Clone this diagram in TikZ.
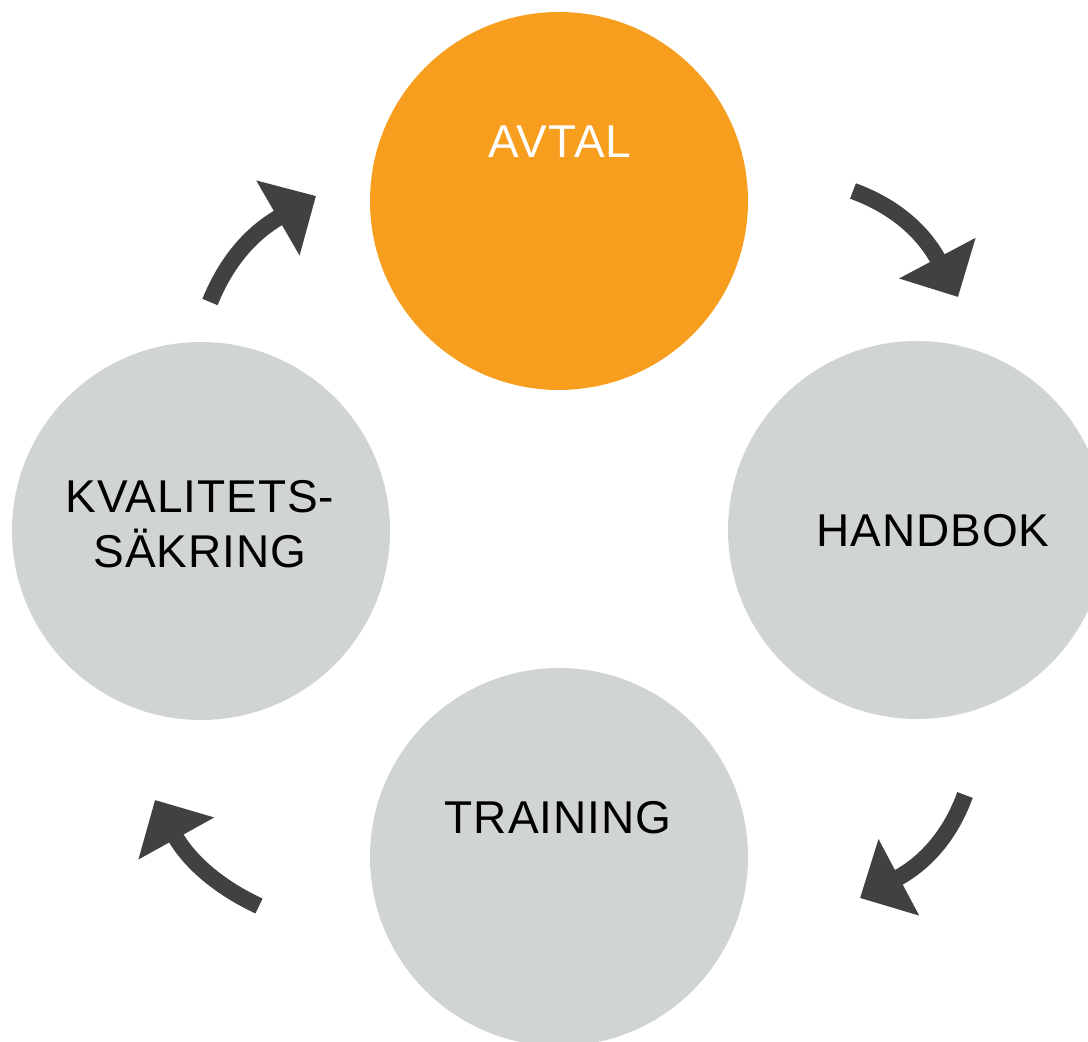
\documentclass[tikz,border=0pt]{standalone}
\usepackage{fontspec}
\setmainfont{Liberation Sans}[LetterSpace=2]
\usetikzlibrary{arrows.meta}
\definecolor{avtalorange}{RGB}{247,158,31}
\definecolor{stagegray}{RGB}{209,212,213}
\definecolor{arrowgray}{RGB}{65,64,66}

\begin{document}
\begin{tikzpicture}[x=1pt, y=1pt,
    stage/.style={circle, fill=stagegray, minimum size=378pt, inner sep=0pt},
    stagetext/.style={font=\fontsize{46}{55}\selectfont, align=center, inner sep=0pt},
    cyclearrow/.style={arrowgray, line width=16.5pt, -{Triangle[length=44pt 0 1, width=84pt 0 1]}}]
    \useasboundingbox (0,0) rectangle (1088,1042);

    % Stages of the cycle
    \node[stage, fill=avtalorange] (avtal) at (559,841) {};
    \node[stage] (handbok) at (917,512) {};
    \node[stage] (training) at (559,185) {};
    \node[stage] (kvalitet) at (201,511) {};

    % Texts
    \node[stagetext, text=white] (avtaltext) at (560,900) {AVTAL};
    \node[stagetext] (handboktext) at (933,511.5) {HANDBOK};
    \node[stagetext] (trainingtext) at (558,224) {TRAINING};
    \node[stagetext] (kvalitettext) at (200,517.5) {KVALITETS-\\SÄKRING};

    % Arrows between the stages (clockwise)
    \foreach \n/\sx/\sy/\ex/\ey/\o/\i in {1/210/740/316/846/68/210,
                                         2/853/851/958/745/-20/118,
                                         3/965/247/860/144/-110/28,
                                         4/259/136/155/242/155/299} {
        \coordinate (from\n) at (\sx,\sy);
        \coordinate (to\n) at (\ex,\ey);
        \draw[cyclearrow] (from\n) to[out=\o, in=\i] (to\n);
    }
\end{tikzpicture}
\end{document}
